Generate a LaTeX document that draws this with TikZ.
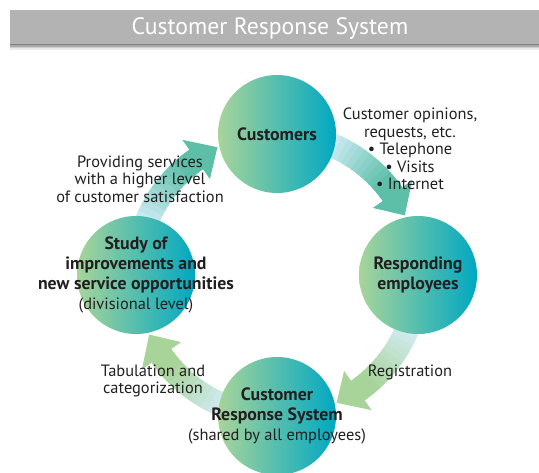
\documentclass[tikz,border=0pt]{standalone}
\usepackage{fontspec}
\setmainfont{PT Sans}
\usetikzlibrary{calc}
\definecolor{Ink}{HTML}{231F20}
\definecolor{LeafGreen}{HTML}{A8D49A}
\definecolor{SeaTeal}{HTML}{00A8C2}
\definecolor{MintTeal}{HTML}{5EBFA9}
\definecolor{SkyTail}{HTML}{D4EDF8}
\definecolor{BarGray}{HTML}{B3B3B3}
\newcommand\plainline{\fontsize{16.4}{18}\selectfont\mdseries}

\tikzset{
  stage/.style={circle,minimum size=118pt,inner sep=0pt,left color=LeafGreen,right color=SeaTeal},
  stagetext/.style={align=center,text=Ink,font=\fontsize{17.8}{20}\selectfont\bfseries},
  note/.style={align=center,text=Ink,font=\fontsize{16.4}{17.6}\selectfont},
}

\begin{document}
\begin{tikzpicture}[x=1pt,y=1pt]
  \useasboundingbox (0,0) rectangle (539,472);
  \clip (0,0) rectangle (539,472);
  \coordinate (hub) at (277,197);

  % title bar with soft shadow
  \foreach \d/\o in {6/0.08,4.5/0.12,3/0.18,1.5/0.25}
    \fill[black,opacity=\o] (10,428-\d) rectangle (539,462-\d);
  \fill[BarGray] (10,428) rectangle (539,462);
  \node[text=white,font=\fontsize{23.7}{26}\selectfont] (title) at (270,444) {Customer Response System};

  % curved arrows, tail light blue, head coloured
  \foreach \s/\hc in {90/MintTeal,0/LeafGreen,-90/LeafGreen,180/MintTeal}{
    \foreach \i in {0,...,13}{
      \pgfmathsetmacro\a{\s-20-2.5*\i}
      \pgfmathsetmacro\b{\a-3}
      \pgfmathsetmacro\p{min(100,9*\i)}
      \draw[line width=24pt,draw=\hc!\p!SkyTail] (hub) ++(\a:141pt) arc[start angle=\a,end angle=\b,radius=141pt];
    }
    \fill[\hc] ($(hub)+(\s-55:165pt)$) -- ($(hub)+(\s-65:141pt)$) -- ($(hub)+(\s-55:117pt)$) -- cycle;
  }

  % the four stages
  \node[stage] (cust)  at ($(hub)+(90:141pt)$)  {};
  \node[stage] (resp)  at ($(hub)+(0:141pt)$)   {};
  \node[stage] (crs)   at ($(hub)+(-90:141pt)$) {};
  \node[stage] (study) at ($(hub)+(180:141pt)$) {};

  \node[stagetext] (custlbl)  at (cust)  {Customers};
  \node[stagetext] (resplbl)  at (resp)  {Responding\\employees};
  \node[stagetext] (crslbl)   at (crs)   {Customer\\Response System\\{\plainline(shared by all employees)}};
  \node[stagetext] (studylbl) at (study) {Study of\\improvements and\\new service opportunities\\{\plainline(divisional level)}};

  % notes on the arrows
  \node[note] (opinions) at (410,323) {Customer opinions,\\requests, etc.\\\textbullet\ Telephone\\\textbullet\ Visits\\\textbullet\ Internet};
  \node[note] (providing) at (140,293) {Providing services\\with a higher level\\of customer satisfaction};
  \node[note] (registration) at (410,100) {Registration};
  \node[note] (tabulation) at (153,91) {Tabulation and\\categorization};
\end{tikzpicture}
\end{document}
